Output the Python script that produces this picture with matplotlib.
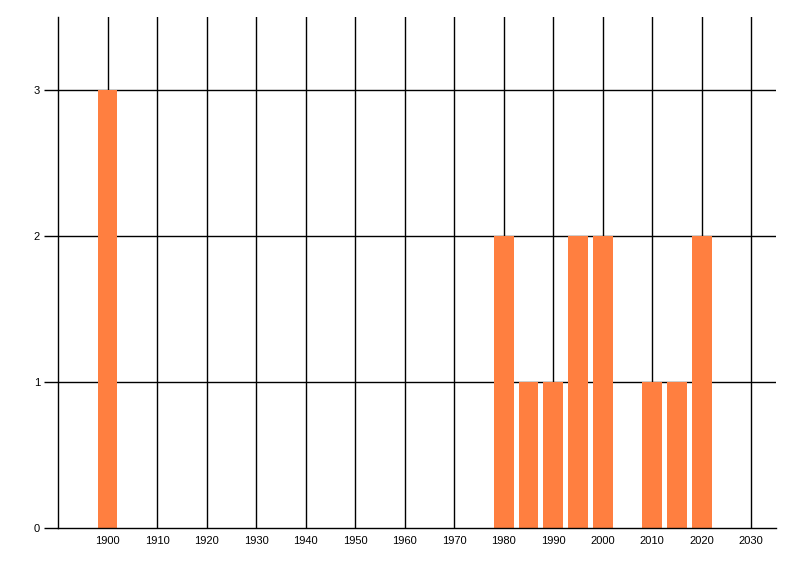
import matplotlib
matplotlib.use("Agg")
import matplotlib.pyplot as plt

years = [1900, 1980, 1985, 1990, 1995, 2000, 2010, 2015, 2020]
counts = [3, 2, 1, 1, 2, 2, 1, 1, 2]
xticks = list(range(1900, 2031, 10))
yticks = [0, 1, 2, 3]

plt.rcParams['font.family'] = ['Liberation Sans', 'DejaVu Sans']

fig = plt.figure(figsize=(8, 5.76), dpi=100)
ax = fig.add_axes([58/800, 1 - 528/576, (776 - 58)/800, (528 - 17)/576])

# grid behind the bars
for x in xticks:
    ax.axvline(x, color='black', lw=1, zorder=1)
for y in yticks[1:]:
    ax.axhline(y, color='black', lw=1, zorder=1)

ax.bar(years, counts, width=4, color='#FF7F40', zorder=3)

ax.set_xlim(1890, 2035)
ax.set_ylim(0, 3.5)
ax.set_xticks(xticks)
ax.set_yticks(yticks)

ax.spines['top'].set_visible(False)
ax.spines['right'].set_visible(False)
ax.spines['left'].set_linewidth(1)
ax.spines['bottom'].set_linewidth(1)
ax.spines['left'].set_zorder(5)
ax.spines['bottom'].set_zorder(5)

ax.tick_params(axis='x', length=0, pad=6, labelsize=8)
ax.tick_params(axis='y', length=10, width=1, pad=3, labelsize=8)

fig.savefig('out.png', dpi=100)
